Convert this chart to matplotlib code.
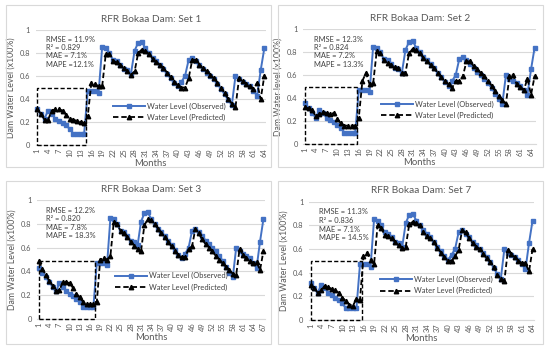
import matplotlib
matplotlib.use("Agg")
import matplotlib.pyplot as plt
from matplotlib.patches import Rectangle

plt.rcParams["font.family"] = ["Lato", "DejaVu Sans"]

# ---------------- data ----------------
observed_core = [0.31, 0.27, 0.23, 0.30, 0.27, 0.23, 0.21, 0.19, 0.17, 0.14,
                 0.10, 0.10, 0.10, 0.10, 0.47, 0.47, 0.47, 0.45, 0.85, 0.84,
                 0.80, 0.74, 0.73, 0.70, 0.66, 0.65, 0.62, 0.82, 0.89, 0.90,
                 0.84, 0.80, 0.76, 0.73, 0.70, 0.66, 0.62, 0.58, 0.54, 0.51,
                 0.55, 0.60, 0.74, 0.76, 0.73, 0.70, 0.66, 0.63, 0.60, 0.57,
                 0.53, 0.49, 0.44, 0.39, 0.35, 0.60, 0.57, 0.55, 0.53, 0.51,
                 0.47, 0.43, 0.65, 0.84]
observed_set1 = observed_core
observed_set2 = [0.36] + observed_core
observed_set3 = [0.43, 0.39, 0.35] + observed_core
observed_set7 = observed_core

predicted_set1 = [0.31, 0.27, 0.22, 0.22, 0.30, 0.31, 0.31, 0.30, 0.26, 0.23,
                  0.22, 0.21, 0.20, 0.19, 0.25, 0.54, 0.53, 0.51, 0.51, 0.79,
                  0.79, 0.73, 0.72, 0.70, 0.67, 0.64, 0.61, 0.64, 0.80, 0.83,
                  0.82, 0.79, 0.75, 0.72, 0.70, 0.67, 0.63, 0.59, 0.55, 0.52,
                  0.50, 0.50, 0.58, 0.74, 0.74, 0.70, 0.67, 0.64, 0.61, 0.58,
                  0.54, 0.50, 0.45, 0.40, 0.36, 0.33, 0.58, 0.56, 0.53, 0.51,
                  0.49, 0.54, 0.40, 0.60]
predicted_set2 = [0.32, 0.31, 0.30, 0.24, 0.26, 0.28, 0.27, 0.26, 0.27, 0.22,
                  0.18, 0.16, 0.16, 0.16, 0.16, 0.23, 0.55, 0.62, 0.52, 0.53,
                  0.81, 0.79, 0.73, 0.71, 0.69, 0.67, 0.66, 0.62, 0.62, 0.79,
                  0.83, 0.82, 0.79, 0.75, 0.72, 0.69, 0.66, 0.62, 0.58, 0.55,
                  0.52, 0.49, 0.55, 0.55, 0.59, 0.72, 0.72, 0.68, 0.65, 0.62,
                  0.59, 0.55, 0.51, 0.46, 0.42, 0.38, 0.35, 0.59, 0.60, 0.52,
                  0.50, 0.47, 0.57, 0.43, 0.59]
predicted_set3 = [0.49, 0.42, 0.37, 0.32, 0.28, 0.23, 0.24, 0.31, 0.31, 0.30,
                  0.26, 0.21, 0.18, 0.14, 0.12, 0.12, 0.12, 0.14, 0.50, 0.51,
                  0.50, 0.53, 0.82, 0.80, 0.74, 0.72, 0.69, 0.65, 0.61, 0.59,
                  0.57, 0.79, 0.84, 0.83, 0.80, 0.76, 0.72, 0.69, 0.65, 0.61,
                  0.57, 0.54, 0.52, 0.52, 0.59, 0.61, 0.76, 0.72, 0.67, 0.63,
                  0.60, 0.57, 0.53, 0.50, 0.47, 0.44, 0.41, 0.38, 0.37, 0.59,
                  0.54, 0.51, 0.49, 0.47, 0.48, 0.41, 0.57]
predicted_set7 = [0.30, 0.27, 0.23, 0.25, 0.29, 0.28, 0.26, 0.25, 0.23, 0.19,
                  0.16, 0.13, 0.12, 0.18, 0.17, 0.54, 0.57, 0.51, 0.47, 0.80,
                  0.78, 0.72, 0.71, 0.69, 0.66, 0.63, 0.61, 0.62, 0.81, 0.83,
                  0.82, 0.80, 0.74, 0.71, 0.69, 0.66, 0.61, 0.57, 0.53, 0.50,
                  0.50, 0.54, 0.59, 0.76, 0.74, 0.69, 0.65, 0.62, 0.60, 0.56,
                  0.52, 0.49, 0.45, 0.38, 0.35, 0.33, 0.59, 0.56, 0.53, 0.50,
                  0.48, 0.48, 0.41, 0.60]

titles = ["RFR Bokaa Dam: Set 1", "RFR Bokaa Dam: Set 2",
          "RFR Bokaa Dam: Set 3", "RFR Bokaa Dam: Set 7"]
ylabels = ["Dam Water Level (x100%)", "Dam Water level (x100%)",
           "Dam Water Level (x100%)", "Dam Water Level (x100%)"]
metrics = [["RMSE = 11.9%", "R\u00b2 = 0.829", "MAE = 7.1%", "MAPE =12.1%"],
           ["RMSE = 12.3%", "R\u00b2 = 0.824", "MAE = 7.2%", "MAPE = 13.3%"],
           ["RMSE = 12.2%", "R\u00b2 = 0.820", "MAE = 7.8%", "MAPE = 18.3%"],
           ["RMSE = 11.3%", "R\u00b2 = 0.836", "MAE = 7.1%", "MAPE = 14.5%"]]
legend_labels = ["Water Level (Observed)", "Water Level (Predicted)"]
observed = [observed_set1, observed_set2, observed_set3, observed_set7]
predicted = [predicted_set1, predicted_set2, predicted_set3, predicted_set7]
# dashed window (end month, height)
windows = [(14.4, 0.5), (15.4, 0.5), (17.5, 0.49), (15.5, 0.5)]

# ---------------- layout (pixels) ----------------
W, H = 550, 353
axes_px = [(35.5, 30, 266.1, 145), (303.2, 29.3, 536.4, 144),
           (37.3, 200.3, 265.1, 318.7), (308.9, 201.7, 534.3, 320)]
frames_px = [(6, 5, 271, 167), (278, 5, 543, 167),
             (6, 181, 271, 344), (278, 181, 543, 344)]
text_pos = [(0.044, 0.92), (0.048, 0.913), (0.038, 0.918), (0.046, 0.913)]
leg_pos = [(0.345, 0.29), (0.342, 0.30), (0.35, 0.315), (0.324, 0.295)]

fig = plt.figure(figsize=(W / 100, H / 100), dpi=100)
BLUE = "#4472C4"
GRID = "#D9D9D9"
TXT = "#595959"

for i in range(4):
    fl, ft, fr, fb = frames_px[i]
    fig.patches.append(Rectangle((fl / W, 1 - fb / H), (fr - fl) / W, (fb - ft) / H,
                                 transform=fig.transFigure, fill=False,
                                 edgecolor=GRID, lw=0.8))
    l, t, r, b = axes_px[i]
    ax = fig.add_axes([l / W, 1 - b / H, (r - l) / W, (b - t) / H])
    obs = observed[i]
    pred = predicted[i]
    n = len(obs)
    months = list(range(1, n + 1))
    ax.plot(months, obs, color=BLUE, lw=1.4, marker="s", ms=3.2,
            label=legend_labels[0], clip_on=False, zorder=3)
    ax.plot(months, pred, color="black", lw=1.3, ls=(0, (3, 1.6)), marker="^",
            ms=3.2, label=legend_labels[1], clip_on=False, zorder=4)
    xe, hh = windows[i]
    ax.add_patch(Rectangle((1, 0), xe - 1, hh, fill=False, edgecolor="black",
                           ls=(0, (3, 1.6)), lw=1.0, zorder=5, clip_on=False))
    ax.set_xlim(0.5, n + 0.5)
    ax.set_ylim(0, 1)
    ax.set_yticks([0, 0.2, 0.4, 0.6, 0.8, 1.0])
    ax.set_yticklabels(["0", "0.2", "0.4", "0.6", "0.8", "1"])
    ticks = list(range(1, n + 1, 3))
    ax.set_xticks(ticks)
    ax.set_xticklabels([str(t) for t in ticks], rotation=90)
    ax.grid(axis="y", color=GRID, lw=0.8)
    ax.set_axisbelow(True)
    for s in ["top", "right", "left"]:
        ax.spines[s].set_visible(False)
    ax.spines["bottom"].set_color(GRID)
    ax.spines["bottom"].set_linewidth(0.8)
    ax.tick_params(axis="both", length=0, labelsize=5.4, colors=TXT, pad=2.5)
    ax.tick_params(axis="y", pad=4)
    ax.set_title(titles[i], fontsize=7.3, color=TXT, pad=6)
    ax.set_xlabel("Months", fontsize=6.8, color=TXT, labelpad=1.2)
    ax.set_ylabel(ylabels[i], fontsize=6.3, color=TXT, labelpad=3)
    tx, ty = text_pos[i]
    for k, line in enumerate(metrics[i]):
        ax.text(tx, ty - k * 0.072, line, transform=ax.transAxes, fontsize=5.4,
                color="#404040", va="center", ha="left")
    lx, ly = leg_pos[i]
    ax.legend(loc="center left", bbox_to_anchor=(lx - 0.01, ly), frameon=False,
              fontsize=5.4, handlelength=4.3, handletextpad=0.3, borderpad=0,
              labelspacing=0.55, borderaxespad=0, labelcolor="#404040")

fig.savefig("out.png", dpi=100, facecolor="white")
